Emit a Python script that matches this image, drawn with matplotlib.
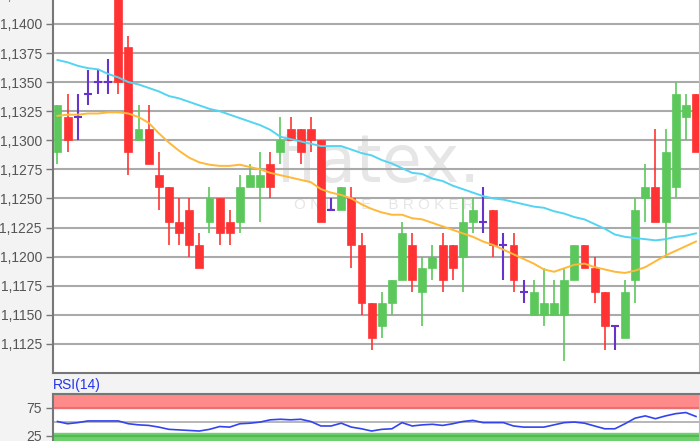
import numpy as np
import matplotlib
matplotlib.use("Agg")
import matplotlib.pyplot as plt

# ── Daten ────────────────────────────────────────────────
opens = [1.1290, 1.1320, 1.1320, 1.1340, 1.1350, 1.1350, 1.1440, 1.1380, 1.1300, 1.1310,
         1.1270, 1.1260, 1.1230, 1.1240, 1.1210, 1.1230, 1.1250, 1.1230, 1.1230, 1.1260,
         1.1260, 1.1280, 1.1290, 1.1310, 1.1310, 1.1310, 1.1300, 1.1240, 1.1240, 1.1250,
         1.1210, 1.1160, 1.1140, 1.1160, 1.1180, 1.1210, 1.1170, 1.1190, 1.1210, 1.1210,
         1.1200, 1.1230, 1.1230, 1.1240, 1.1210, 1.1210, 1.1170, 1.1150, 1.1150, 1.1150,
         1.1150, 1.1180, 1.1210, 1.1190, 1.1170, 1.1140, 1.1130, 1.1180, 1.1250, 1.1260,
         1.1230, 1.1260, 1.1320, 1.1340]
highs = [1.1330, 1.1340, 1.1340, 1.1360, 1.1360, 1.1370, 1.1450, 1.1390, 1.1330, 1.1330,
         1.1290, 1.1260, 1.1250, 1.1250, 1.1220, 1.1260, 1.1250, 1.1240, 1.1270, 1.1280,
         1.1290, 1.1290, 1.1320, 1.1320, 1.1310, 1.1320, 1.1300, 1.1250, 1.1260, 1.1260,
         1.1220, 1.1160, 1.1170, 1.1180, 1.1230, 1.1220, 1.1200, 1.1210, 1.1220, 1.1210,
         1.1250, 1.1250, 1.1260, 1.1240, 1.1220, 1.1220, 1.1180, 1.1180, 1.1190, 1.1180,
         1.1190, 1.1210, 1.1210, 1.1200, 1.1170, 1.1140, 1.1180, 1.1250, 1.1280, 1.1310,
         1.1310, 1.1350, 1.1340, 1.1340]
lows = [1.1280, 1.1290, 1.1300, 1.1330, 1.1340, 1.1340, 1.1340, 1.1270, 1.1300, 1.1280,
        1.1240, 1.1210, 1.1210, 1.1200, 1.1190, 1.1220, 1.1210, 1.1210, 1.1220, 1.1260,
        1.1230, 1.1250, 1.1280, 1.1300, 1.1280, 1.1290, 1.1230, 1.1240, 1.1240, 1.1190,
        1.1150, 1.1120, 1.1130, 1.1150, 1.1180, 1.1170, 1.1140, 1.1180, 1.1170, 1.1180,
        1.1170, 1.1220, 1.1220, 1.1200, 1.1180, 1.1170, 1.1160, 1.1150, 1.1140, 1.1150,
        1.1110, 1.1180, 1.1190, 1.1160, 1.1120, 1.1120, 1.1130, 1.1160, 1.1230, 1.1230,
        1.1200, 1.1250, 1.1300, 1.1290]
closes = [1.1330, 1.1300, 1.1320, 1.1340, 1.1350, 1.1350, 1.1350, 1.1290, 1.1310, 1.1280,
          1.1260, 1.1230, 1.1220, 1.1210, 1.1190, 1.1250, 1.1220, 1.1220, 1.1260, 1.1270,
          1.1270, 1.1260, 1.1300, 1.1300, 1.1290, 1.1300, 1.1230, 1.1240, 1.1260, 1.1210,
          1.1160, 1.1130, 1.1160, 1.1180, 1.1220, 1.1180, 1.1190, 1.1200, 1.1180, 1.1190,
          1.1230, 1.1240, 1.1230, 1.1210, 1.1210, 1.1180, 1.1170, 1.1170, 1.1160, 1.1160,
          1.1180, 1.1210, 1.1190, 1.1170, 1.1140, 1.1140, 1.1170, 1.1240, 1.1260, 1.1230,
          1.1290, 1.1340, 1.1330, 1.1290]

ma_long = [1.1369, 1.1367, 1.1364, 1.1362, 1.1361, 1.1357, 1.1354, 1.1350, 1.1348, 1.1345,
           1.1342, 1.1338, 1.1336, 1.1333, 1.1330, 1.1327, 1.1325, 1.1322, 1.1319, 1.1316,
           1.1313, 1.1309, 1.1303, 1.1301, 1.1299, 1.1297, 1.1295, 1.1295, 1.1295, 1.1292,
           1.1289, 1.1287, 1.1283, 1.1280, 1.1276, 1.1272, 1.1271, 1.1267, 1.1265, 1.1261,
           1.1258, 1.1255, 1.1252, 1.1250, 1.1249, 1.1247, 1.1245, 1.1243, 1.1242, 1.1239,
           1.1237, 1.1234, 1.1232, 1.1228, 1.1224, 1.1219, 1.1217, 1.1216, 1.1215, 1.1214,
           1.1215, 1.1217, 1.1218, 1.1220]
ma_short = [1.1321, 1.1322, 1.1322, 1.1323, 1.1323, 1.1324, 1.1324, 1.1323, 1.1320, 1.1315,
            1.1306, 1.1298, 1.1291, 1.1285, 1.1281, 1.1279, 1.1278, 1.1278, 1.1279, 1.1277,
            1.1275, 1.1272, 1.1270, 1.1268, 1.1266, 1.1264, 1.1258, 1.1255, 1.1253, 1.1250,
            1.1245, 1.1241, 1.1238, 1.1236, 1.1236, 1.1233, 1.1232, 1.1229, 1.1226, 1.1223,
            1.1220, 1.1217, 1.1213, 1.1210, 1.1206, 1.1202, 1.1198, 1.1194, 1.1189, 1.1187,
            1.1190, 1.1193, 1.1194, 1.1191, 1.1189, 1.1187, 1.1186, 1.1188, 1.1191, 1.1196,
            1.1201, 1.1205, 1.1209, 1.1213]
rsi = [50, 46, 48, 51, 51, 51, 51, 46, 44, 43, 40, 36, 35, 34, 33, 36, 41, 40, 46, 47,
       49, 53, 54, 53, 54, 50, 42, 42, 47, 40, 37, 33, 36, 37, 48, 42, 44, 45, 43, 46,
       50, 52, 48, 48, 48, 42, 40, 40, 40, 44, 48, 49, 47, 42, 37, 37, 46, 56, 60, 55,
       60, 64, 66, 59]

price_ticks = [1.1125, 1.1150, 1.1175, 1.1200, 1.1225, 1.1250, 1.1275, 1.1300,
               1.1325, 1.1350, 1.1375, 1.1400, 1.1425]

# ── Farben ───────────────────────────────────────────────
C_UP = "#5CC85C"
C_DOWN = "#FF3333"
C_DOJI = "#6633CC"
C_CYAN = "#55D4F2"
C_ORANGE = "#FFB838"
C_GRID = "#AAAAAA"
C_TEXT = "#555555"
C_WM = "#E6E6E6"

plt.rcParams["font.family"] = ["Liberation Sans", "DejaVu Sans"]

fig = plt.figure(figsize=(7, 4.41), dpi=100, facecolor="#F3F3F3")
ax = fig.add_axes([53 / 700, 68 / 441, 646 / 700, 384 / 441])
ax.set_facecolor("white")

x = np.arange(len(opens))
o = np.array(opens)
c = np.array(closes)
h = np.array(highs)
l = np.array(lows)

up = c > o
down = c < o
doji = c == o

# Wasserzeichen
ax.text(31.6, 1.1264, "flatex.", fontsize=47, color=C_WM, ha="center",
        va="baseline", zorder=0.5, family="DejaVu Sans")
ax.text(32.2, 1.1244, "O N L I N E    B R O K E R", fontsize=11, color=C_WM,
        ha="center", va="center", zorder=0.5)

# Gitter
for t in price_ticks:
    ax.axhline(t, color=C_GRID, linewidth=1.5, zorder=1)

w = 0.78
for mask, col in [(up, C_UP), (down, C_DOWN)]:
    ax.vlines(x[mask], l[mask], h[mask], color=col, linewidth=1.2, zorder=3)
    lo = np.minimum(o[mask], c[mask])
    ax.bar(x[mask], np.abs(c[mask] - o[mask]), bottom=lo, width=w, color=col,
           edgecolor=col, linewidth=0.5, zorder=4)
ax.vlines(x[doji], l[doji], h[doji], color=C_DOJI, linewidth=1.5, zorder=4)
ax.hlines(c[doji], x[doji] - 0.4, x[doji] + 0.4, color=C_DOJI, linewidth=1.5, zorder=4)

ax.plot(x, ma_long, color=C_CYAN, linewidth=1.4, zorder=5)
ax.plot(x, ma_short, color=C_ORANGE, linewidth=1.4, zorder=5)

ax.set_xlim(-0.44, 63.3)
ax.set_ylim(1.1100, 1.1430)
ax.set_yticks(price_ticks)
ax.set_yticklabels([f"{t:.4f}".replace(".", ",") for t in price_ticks],
                   fontsize=10, color=C_TEXT)
ax.set_xticks([])
ax.tick_params(axis="y", length=5, width=1, color="#777777", pad=3)
for side in ["left", "bottom"]:
    ax.spines[side].set_color("#777777")
    ax.spines[side].set_linewidth(1.5)
ax.spines["right"].set_color("#BBBBBB")
ax.spines["top"].set_visible(False)

# ── RSI ─────────────────────────────────────────────────
ax2 = fig.add_axes([53 / 700, -8.5 / 441, 646 / 700, 56 / 441])
ax2.set_facecolor("white")
ax2.axhspan(75, 100, color="#FF8A8A", zorder=1)
ax2.axhline(75, color="#E87070", linewidth=1.5, zorder=2)
ax2.axhspan(0, 30, color="#6CD06C", zorder=1)
ax2.axhline(25, color="#55B855", linewidth=1.5, zorder=2)
ax2.axhline(50, color=C_GRID, linewidth=1.2, zorder=2)
ax2.plot(x, rsi, color="#3344EE", linewidth=1.2, zorder=3)
ax2.set_xlim(-0.44, 63.3)
ax2.set_ylim(0, 100)
ax2.set_yticks([25, 75])
ax2.set_yticklabels(["25", "75"], fontsize=10, color=C_TEXT)
ax2.set_xticks([])
ax2.tick_params(axis="y", length=5, width=1, color="#777777", pad=3)
for side in ["left", "top"]:
    ax2.spines[side].set_color("#777777")
    ax2.spines[side].set_linewidth(1.5)
ax2.spines["right"].set_color("#BBBBBB")
ax2.spines["bottom"].set_visible(False)

fig.text(53 / 700, 1 - 385 / 441, "RSI(14)", fontsize=10, color="#2233EE",
         ha="left", va="center")

fig.savefig("out.png", dpi=100, facecolor=fig.get_facecolor())
